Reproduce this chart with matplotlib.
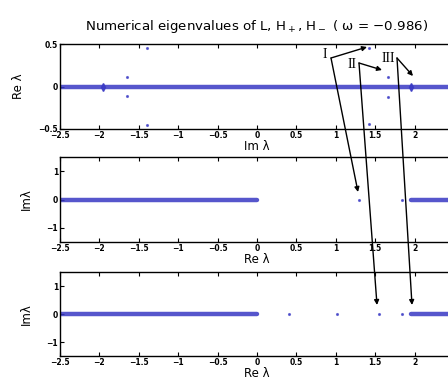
import matplotlib
matplotlib.use("Agg")
import matplotlib.pyplot as plt
from matplotlib.patches import FancyArrowPatch

# ── Data ─────────────────────────────────────────────────────────────────────
# L: continuous spectrum on the whole axis + isolated eigenvalues
L_cont = [(-2.5, 2.5)]
L_edge = [-1.96, 1.95]
L_iso_im = [-1.65, -1.65, -1.40, -1.40, 1.42, 1.42, 1.66, 1.66]
L_iso_re = [0.11, -0.11, 0.45, -0.45, 0.45, -0.44, 0.11, -0.12]

# H+: continuous branches + isolated eigenvalues (all real)
Hp_cont = [(-2.5, 0.0), (1.96, 2.5)]
Hp_iso = [1.30, 1.84]

# H-: continuous branches + isolated eigenvalues (all real)
Hm_cont = [(-2.5, 0.0), (1.95, 2.5)]
Hm_iso = [0.40, 1.01, 1.55, 1.84]

xticks = [-2.5, -2, -1.5, -1, -0.5, 0, 0.5, 1, 1.5, 2]
xticklabels = ["\u22122.5", "\u22122", "\u22121.5", "\u22121", "\u22120.5", "0",
               "0.5", "1", "1.5", "2"]

BLUE = "#3838c4"
W, H = 448, 383

fig = plt.figure(figsize=(W / 100, H / 100), dpi=100)
fig.patch.set_facecolor("white")


def make_axes(top_px, bot_px):
    left, right = 60, 454
    return fig.add_axes([left / W, 1 - bot_px / H, (right - left) / W, (bot_px - top_px) / H])


def style(ax, ylim, yticks, yticklabels, xlabel, ylabel, ylabel_x):
    ax.set_xlim(-2.5, 2.5)
    ax.set_ylim(*ylim)
    ax.set_xticks(xticks)
    ax.set_xticklabels(xticklabels, fontsize=5.5, fontweight="bold")
    ax.set_yticks(yticks)
    ax.set_yticklabels(yticklabels, fontsize=5.5, fontweight="bold")
    ax.tick_params(direction="in", length=3, width=0.8, top=True, right=True, pad=1.5)
    for s in ax.spines.values():
        s.set_linewidth(1.0)
    ax.set_xlabel(xlabel, fontsize=8.5, labelpad=0)
    ax.set_ylabel(ylabel, fontsize=8.5, labelpad=0)
    ax.yaxis.set_label_coords(ylabel_x, 0.5)


# ── Top: L ───────────────────────────────────────────────────────────────────
ax1 = make_axes(44, 129)
for a, b in L_cont:
    ax1.plot([a, b], [0, 0], color=BLUE, lw=3.2, solid_capstyle="butt", alpha=0.85)
ax1.plot(L_edge, [0] * len(L_edge), "d", color=BLUE, ms=4, alpha=0.85)
ax1.plot(L_iso_im, L_iso_re, ".", color=BLUE, ms=2.5, alpha=0.7)
style(ax1, (-0.5, 0.5), [-0.5, 0, 0.5], ["\u22120.5", "0", "0.5"],
      "Im \u03bb", "Re \u03bb", -0.09)
ax1.set_title("Numerical eigenvalues of L, H$_+$, H$_-$ ( \u03c9 = \u22120.986)",
              fontsize=9.6, pad=10, x=0.5)

# ── Middle: H+ ───────────────────────────────────────────────────────────────
ax2 = make_axes(157, 242)
for a, b in Hp_cont:
    ax2.plot([a, b], [0, 0], color=BLUE, lw=3.2, solid_capstyle="round", alpha=0.85)
ax2.plot(Hp_iso, [0] * len(Hp_iso), ".", color=BLUE, ms=2.5, alpha=0.7)
style(ax2, (-1.5, 1.5), [-1, 0, 1], ["\u22121", "0", "1"], "Re \u03bb", "Im\u03bb", -0.07)

# ── Bottom: H- ───────────────────────────────────────────────────────────────
ax3 = make_axes(272, 356)
for a, b in Hm_cont:
    ax3.plot([a, b], [0, 0], color=BLUE, lw=3.2, solid_capstyle="round", alpha=0.85)
ax3.plot(Hm_iso, [0] * len(Hm_iso), ".", color=BLUE, ms=2.5, alpha=0.7)
style(ax3, (-1.5, 1.5), [-1, 0, 1], ["\u22121", "0", "1"], "Re \u03bb", "Im\u03bb", -0.07)


# ── Hand-drawn annotation arrows (figure pixel coords, y from top) ───────────
def fp(x, y):
    return (x / W, 1 - y / H)


def farrow(start, end):
    fig.add_artist(FancyArrowPatch(fp(*start), fp(*end), transform=fig.transFigure,
                                   arrowstyle="-|>", mutation_scale=7, color="black",
                                   lw=1.0, shrinkA=0, shrinkB=0, zorder=10))


farrow((331, 58), (367, 47))
farrow((331, 58), (358, 192))
farrow((359, 63), (382, 70))
farrow((359, 63), (377, 305))
farrow((397, 58), (413, 76))
farrow((397, 58), (412, 305))

for label, (x, y) in [("I", (325, 55)), ("II", (352, 64)), ("III", (388, 58))]:
    fig.text(x / W, 1 - y / H, label, ha="center", va="center", fontsize=10,
             family="Liberation Serif", zorder=11,
             bbox=dict(fc="white", ec="none", pad=0.3))

fig.savefig("out.png", dpi=100, facecolor="white")
